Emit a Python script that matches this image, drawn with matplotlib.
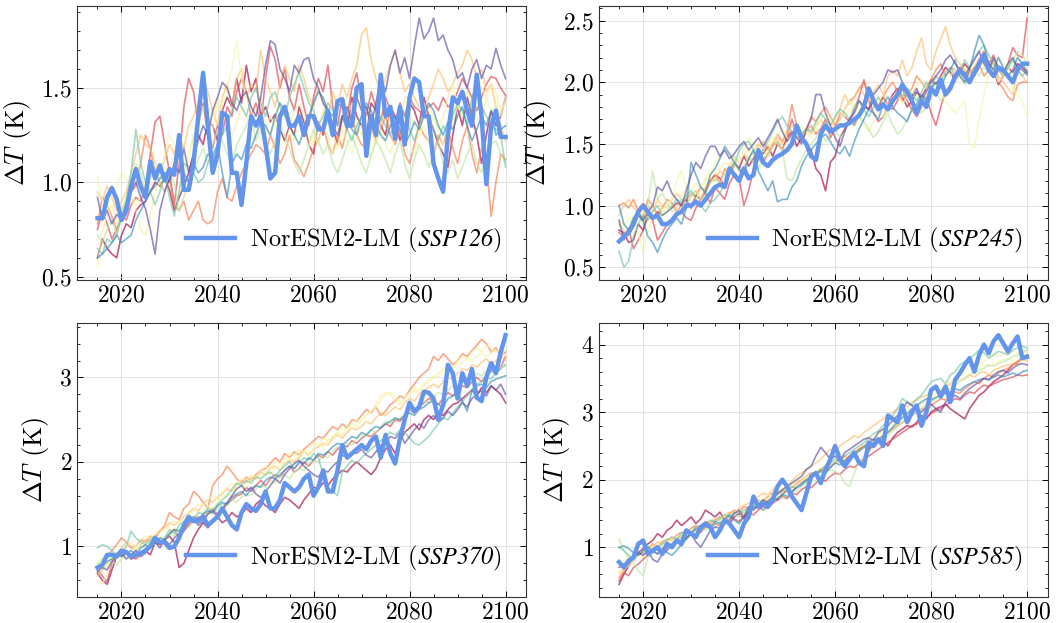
import matplotlib
matplotlib.use("Agg")
import matplotlib.pyplot as plt
from matplotlib.ticker import MultipleLocator, AutoMinorLocator
from matplotlib.font_manager import FontProperties

plt.rcParams.update({
    "font.family": "serif",
    "font.serif": ["cmr10"],
    "mathtext.fontset": "cm",
    # fontset "custom" uzywany tylko w legendzie (kursywa z cyframi)
    "mathtext.rm": "STIXGeneral:italic",
    "mathtext.it": "STIXGeneral:italic",
    "axes.formatter.use_mathtext": True,
    "axes.unicode_minus": False,
    "xtick.direction": "in",
    "ytick.direction": "in",
    "xtick.top": True,
    "ytick.right": True,
    "xtick.major.size": 4,
    "ytick.major.size": 4,
    "xtick.minor.size": 2,
    "ytick.minor.size": 2,
    "xtick.major.width": 0.7,
    "ytick.major.width": 0.7,
    "xtick.minor.width": 0.6,
    "ytick.minor.width": 0.6,
    "axes.linewidth": 0.8,
    "axes.edgecolor": "#333333",
})

years = list(range(2015, 2101))

# ---------------- NorESM2-LM (gruba niebieska linia) ----------------
noresm_126 = [0.81, 0.81, 0.92, 0.97, 0.91, 0.80, 0.85, 0.98, 1.07, 0.98,
              0.92, 1.11, 1.02, 1.09, 1.01, 1.07, 1.04, 1.25, 0.96, 0.96,
              1.10, 1.35, 1.58, 1.30, 1.05, 1.15, 1.37, 1.35, 1.05, 1.05,
              0.88, 1.10, 1.35, 1.30, 1.35, 1.20, 1.02, 1.05, 1.35, 1.40,
              1.30, 1.30, 1.35, 1.25, 1.35, 1.35, 1.28, 1.28, 1.38, 1.25,
              1.43, 1.44, 1.30, 1.30, 1.50, 1.52, 1.14, 1.35, 1.25, 1.57,
              1.35, 1.40, 1.23, 1.40, 1.20, 1.45, 1.55, 1.53, 1.35, 1.35,
              1.10, 1.02, 0.95, 1.25, 1.45, 1.42, 1.48, 1.38, 1.30, 1.57,
              1.35, 0.99, 1.30, 1.38, 1.24, 1.24]
noresm_245 = [0.71, 0.75, 0.78, 0.85, 0.95, 1.00, 0.95, 0.90, 0.92, 0.85,
              0.85, 0.88, 0.93, 0.95, 1.00, 1.00, 1.03, 1.00, 1.05, 1.10,
              1.15, 1.17, 1.15, 1.30, 1.25, 1.20, 1.30, 1.22, 1.25, 1.45,
              1.35, 1.32, 1.37, 1.40, 1.42, 1.45, 1.50, 1.65, 1.55, 1.50,
              1.40, 1.37, 1.58, 1.65, 1.60, 1.62, 1.65, 1.65, 1.67, 1.70,
              1.73, 1.80, 1.95, 1.85, 1.78, 1.82, 1.78, 1.85, 1.90, 1.98,
              1.92, 1.85, 1.75, 1.85, 1.80, 1.95, 1.90, 2.02, 1.90, 1.95,
              2.05, 2.10, 2.05, 2.00, 2.08, 2.15, 2.22, 2.10, 2.05, 2.12,
              2.10, 2.05, 2.00, 2.10, 2.15, 2.15]
noresm_370 = [0.75, 0.78, 0.90, 0.90, 0.88, 0.95, 0.93, 0.88, 0.90, 0.92,
              0.95, 1.00, 1.10, 1.05, 1.05, 0.98, 1.00, 1.10, 1.25, 1.35,
              1.30, 1.30, 1.35, 1.25, 1.30, 1.35, 1.45, 1.35, 1.25, 1.20,
              1.40, 1.50, 1.45, 1.42, 1.50, 1.65, 1.45, 1.45, 1.55, 1.75,
              1.70, 1.65, 1.70, 1.80, 1.85, 1.60, 1.70, 1.90, 1.65, 1.65,
              1.90, 2.20, 2.05, 2.10, 2.15, 2.20, 2.15, 2.25, 2.30, 2.05,
              2.32, 2.10, 1.98, 2.28, 2.50, 2.70, 2.60, 2.65, 2.83, 2.82,
              2.75, 2.50, 2.68, 3.15, 3.05, 2.75, 3.05, 2.90, 3.10, 2.76,
              2.72, 3.00, 3.17, 3.05, 3.30, 3.50]
noresm_585 = [0.78, 0.70, 0.80, 0.85, 1.05, 1.10, 0.90, 0.95, 1.00, 0.90,
              1.05, 1.00, 1.10, 1.05, 1.25, 1.20, 1.15, 1.30, 1.35, 1.30,
              1.15, 1.25, 1.40, 1.35, 1.25, 1.15, 1.35, 1.45, 1.75, 1.60,
              1.65, 1.60, 1.70, 1.90, 2.00, 1.90, 1.75, 1.65, 1.55, 1.80,
              2.05, 2.10, 1.95, 2.15, 2.30, 2.50, 2.30, 2.20, 2.30, 2.40,
              2.25, 2.20, 2.55, 2.50, 2.60, 2.50, 2.95, 2.90, 2.85, 3.10,
              2.85, 3.00, 3.10, 2.80, 3.00, 3.33, 3.38, 3.23, 3.38, 3.15,
              3.48, 3.58, 3.70, 3.80, 3.60, 3.85, 4.00, 3.87, 4.05, 4.14,
              4.02, 3.90, 4.02, 4.12, 3.80, 3.82]

# ---------------- pozostale modele (cienkie linie, kolejnosc wg Spectral) ----------------
ens_126 = [
    [0.60, 0.70, 0.65, 0.62, 0.60, 0.72, 0.78, 0.76, 0.85, 0.88,
     0.90, 0.95, 1.00, 0.98, 1.02, 0.96, 0.85, 0.92, 0.98, 1.05,
     1.15, 1.25, 1.20, 1.32, 1.30, 1.22, 1.38, 1.45, 1.40, 1.55,
     1.42, 1.62, 1.48, 1.55, 1.35, 1.40, 1.32, 1.36, 1.28, 1.22,
     1.30, 1.25, 1.40, 1.32, 1.20, 1.15, 1.32, 1.25, 1.38, 1.30,
     1.20, 1.35, 1.28, 1.45, 1.35, 1.30, 1.25, 1.42, 1.38, 1.30,
     1.25, 1.40, 1.35, 1.22, 1.30, 1.42, 1.38, 1.30, 1.45, 1.35,
     1.28, 1.20, 1.15, 1.08, 1.25, 1.40, 1.30, 1.45, 1.35, 1.25,
     1.10, 1.25, 1.38, 1.30, 1.35, 1.45],
    [0.75, 0.85, 0.78, 0.70, 0.75, 0.82, 0.80, 0.88, 0.92, 0.90,
     0.98, 1.15, 1.32, 1.35, 1.20, 1.05, 0.88, 1.10, 1.40, 1.55,
     1.48, 1.30, 1.42, 1.25, 1.18, 1.30, 1.25, 1.40, 1.35, 1.48,
     1.55, 1.48, 1.35, 1.42, 1.30, 1.55, 1.72, 1.65, 1.50, 1.60,
     1.45, 1.38, 1.52, 1.40, 1.30, 1.45, 1.55, 1.48, 1.62, 1.40,
     1.30, 1.45, 1.35, 1.50, 1.58, 1.42, 1.35, 1.48, 1.40, 1.32,
     1.45, 1.38, 1.30, 1.42, 1.35, 1.45, 1.40, 1.38, 1.35, 1.40,
     1.42, 1.38, 1.45, 1.40, 1.42, 1.48, 1.55, 1.50, 1.45, 1.38,
     1.45, 1.52, 1.56, 1.55, 1.50, 1.46],
    [0.78, 0.92, 0.88, 0.82, 0.75, 0.80, 0.90, 0.95, 0.98, 1.10,
     1.25, 1.18, 1.05, 1.00, 0.95, 1.02, 0.88, 0.85, 0.90, 0.80,
     0.85, 0.90, 0.80, 0.78, 0.80, 0.95, 1.02, 0.92, 0.90, 0.98,
     1.05, 1.10, 1.15, 1.20, 1.18, 1.15, 1.25, 1.18, 1.10, 1.15,
     1.25, 1.12, 1.08, 1.03, 1.10, 1.18, 1.22, 1.30, 1.20, 1.15,
     1.25, 1.18, 1.30, 1.35, 1.25, 1.20, 1.18, 1.30, 1.22, 1.28,
     1.35, 1.25, 1.20, 1.28, 1.15, 1.10, 1.20, 1.30, 1.25, 1.22,
     1.15, 1.25, 1.20, 1.28, 1.18, 1.10, 1.22, 1.30, 1.15, 1.05,
     1.18, 1.10, 0.82, 1.00, 1.15, 1.12],
    [0.95, 0.90, 0.98, 0.92, 0.85, 0.90, 0.95, 1.05, 1.15, 1.25,
     1.20, 1.18, 1.10, 1.05, 1.12, 1.20, 1.15, 1.25, 1.18, 1.30,
     1.35, 1.42, 1.55, 1.48, 1.38, 1.30, 1.45, 1.52, 1.40, 1.55,
     1.60, 1.45, 1.52, 1.48, 1.70, 1.55, 1.48, 1.40, 1.52, 1.62,
     1.55, 1.48, 1.62, 1.55, 1.45, 1.40, 1.50, 1.42, 1.35, 1.48,
     1.40, 1.52, 1.45, 1.55, 1.62, 1.78, 1.82, 1.65, 1.55, 1.48,
     1.55, 1.62, 1.70, 1.58, 1.48, 1.52, 1.45, 1.40, 1.38, 1.45,
     1.52, 1.60, 1.55, 1.48, 1.52, 1.58, 1.62, 1.70, 1.65, 1.55,
     1.60, 1.48, 1.52, 1.40, 1.30, 1.22],
    [0.55, 0.75, 0.82, 0.88, 0.80, 0.78, 0.85, 0.92, 0.85, 0.75,
     0.72, 0.82, 0.95, 1.00, 1.08, 1.05, 1.15, 1.10, 1.02, 1.12,
     1.25, 1.30, 1.40, 1.35, 1.28, 1.42, 1.38, 1.30, 1.25, 1.32,
     1.40, 1.35, 1.28, 1.38, 1.45, 1.30, 1.25, 1.32, 1.40, 1.35,
     1.30, 1.38, 1.42, 1.35, 1.25, 1.20, 1.30, 1.38, 1.32, 1.25,
     1.18, 1.28, 1.35, 1.42, 1.30, 1.25, 1.35, 1.28, 1.20, 1.32,
     1.38, 1.30, 1.25, 1.35, 1.45, 1.38, 1.30, 1.25, 1.35, 1.40,
     1.35, 1.28, 1.35, 1.45, 1.52, 1.40, 1.35, 1.48, 1.42, 1.35,
     1.30, 1.45, 1.52, 1.48, 1.38, 1.42],
    [1.03, 0.90, 0.85, 0.95, 0.98, 1.05, 1.02, 0.95, 0.88, 0.92,
     1.00, 1.05, 1.10, 1.02, 1.15, 1.25, 1.20, 1.12, 1.05, 1.15,
     1.25, 1.35, 1.30, 1.28, 1.35, 1.45, 1.40, 1.50, 1.60, 1.75,
     1.55, 1.45, 1.38, 1.30, 1.22, 1.28, 1.35, 1.30, 1.25, 1.20,
     1.28, 1.22, 1.35, 1.28, 1.18, 1.25, 1.20, 1.30, 1.25, 1.15,
     1.20, 1.28, 1.22, 1.15, 1.25, 1.30, 1.18, 1.12, 1.22, 1.28,
     1.20, 1.15, 1.25, 1.32, 1.28, 1.20, 1.15, 1.25, 1.30, 1.22,
     1.35, 1.28, 1.20, 1.25, 1.32, 1.40, 1.45, 1.38, 1.30, 1.42,
     1.50, 1.45, 1.38, 1.42, 1.35, 1.45],
    [0.72, 0.68, 0.75, 0.80, 0.72, 0.85, 0.92, 1.00, 1.10, 1.05,
     0.95, 1.02, 1.08, 1.00, 0.95, 1.05, 1.00, 0.85, 0.92, 1.00,
     1.05, 1.12, 1.18, 1.10, 1.20, 1.28, 1.22, 1.15, 1.10, 1.20,
     1.25, 1.30, 1.35, 1.22, 1.28, 1.20, 1.15, 1.22, 1.30, 1.25,
     1.18, 1.10, 1.05, 1.12, 1.20, 1.28, 1.22, 1.15, 1.20, 1.10,
     1.05, 1.12, 1.20, 1.25, 1.18, 1.10, 1.05, 1.15, 1.22, 1.18,
     1.12, 1.05, 1.15, 1.22, 1.10, 1.02, 1.12, 1.20, 1.15, 1.08,
     1.15, 1.22, 1.10, 1.05, 1.12, 1.02, 1.08, 1.15, 1.20, 1.10,
     1.05, 1.15, 1.20, 1.22, 1.15, 1.10],
    [0.65, 0.62, 0.70, 0.68, 0.72, 0.82, 0.90, 1.05, 1.28, 1.10,
     1.00, 0.95, 0.88, 0.95, 1.05, 0.92, 0.82, 0.95, 1.10, 1.08,
     1.05, 1.00, 1.02, 1.10, 1.15, 1.20, 1.25, 1.30, 1.38, 1.45,
     1.40, 1.35, 1.45, 1.50, 1.42, 1.35, 1.45, 1.48, 1.40, 1.35,
     1.45, 1.52, 1.58, 1.50, 1.42, 1.38, 1.30, 1.35, 1.42, 1.38,
     1.30, 1.35, 1.28, 1.22, 1.30, 1.35, 1.40, 1.32, 1.28, 1.35,
     1.30, 1.25, 1.32, 1.40, 1.35, 1.28, 1.22, 1.30, 1.38, 1.32,
     1.28, 1.22, 1.30, 1.25, 1.35, 1.42, 1.38, 1.30, 1.45, 1.52,
     1.40, 1.35, 1.30, 1.28, 1.25, 1.08],
    [0.60, 0.62, 0.65, 0.68, 0.72, 0.68, 0.70, 0.72, 0.80, 0.85,
     0.90, 0.95, 0.98, 1.02, 1.05, 1.00, 1.08, 1.15, 1.05, 1.00,
     1.10, 1.05, 1.08, 1.15, 1.12, 1.20, 1.05, 0.92, 1.10, 1.15,
     1.12, 1.20, 1.18, 1.25, 1.32, 1.30, 1.25, 1.35, 1.42, 1.38,
     1.30, 1.25, 1.20, 1.28, 1.35, 1.42, 1.48, 1.45, 1.38, 1.35,
     1.42, 1.40, 1.35, 1.28, 1.25, 1.35, 1.42, 1.38, 1.30, 1.25,
     1.22, 1.30, 1.35, 1.28, 1.20, 1.25, 1.32, 1.28, 1.35, 1.42,
     1.38, 1.30, 1.25, 1.32, 1.28, 1.35, 1.40, 1.30, 1.22, 1.28,
     1.35, 1.30, 1.38, 1.25, 1.28, 1.30],
    [0.92, 0.80, 0.85, 0.78, 0.83, 0.80, 0.88, 0.95, 1.00, 0.92,
     0.86, 0.75, 0.62, 0.85, 0.95, 1.02, 1.10, 1.05, 1.18, 1.05,
     1.15, 1.22, 1.30, 1.25, 1.38, 1.45, 1.53, 1.50, 1.42, 1.38,
     1.45, 1.48, 1.40, 1.35, 1.45, 1.62, 1.75, 1.73, 1.60, 1.55,
     1.48, 1.62, 1.58, 1.65, 1.66, 1.55, 1.50, 1.42, 1.38, 1.30,
     1.25, 1.35, 1.40, 1.32, 1.45, 1.38, 1.40, 1.30, 1.42, 1.55,
     1.48, 1.62, 1.70, 1.58, 1.66, 1.55, 1.72, 1.87, 1.76, 1.80,
     1.87, 1.75, 1.78, 1.70, 1.65, 1.55, 1.58, 1.50, 1.60, 1.65,
     1.55, 1.62, 1.60, 1.71, 1.62, 1.55],
]

ens_245 = [
    [0.80, 0.78, 0.70, 0.72, 0.85, 0.80, 0.92, 0.90, 0.95, 0.92,
     0.95, 0.98, 1.02, 1.00, 1.05, 0.98, 1.08, 1.05, 1.12, 1.20,
     1.25, 1.22, 1.15, 1.28, 1.35, 1.30, 1.40, 1.32, 1.38, 1.45,
     1.42, 1.48, 1.40, 1.50, 1.45, 1.55, 1.60, 1.48, 1.55, 1.50,
     1.45, 1.30, 1.25, 1.12, 1.35, 1.40, 1.55, 1.62, 1.70, 1.65,
     1.75, 1.82, 1.78, 1.85, 1.80, 1.88, 1.82, 1.90, 1.95, 1.88,
     1.80, 1.85, 1.92, 1.88, 1.95, 2.02, 1.98, 2.05, 2.12, 2.08,
     2.02, 2.08, 2.15, 2.10, 2.05, 2.12, 2.20, 2.15, 2.10, 1.98,
     2.05, 2.12, 2.08, 2.15, 2.12, 2.08],
    [0.78, 0.75, 0.82, 0.65, 0.72, 0.80, 0.92, 0.88, 0.72, 0.78,
     0.85, 0.88, 0.92, 0.95, 0.90, 0.88, 0.98, 1.05, 1.10, 1.02,
     1.15, 1.10, 1.05, 1.18, 1.25, 1.22, 1.00, 1.12, 1.30, 1.38,
     1.35, 1.42, 1.48, 1.52, 1.45, 1.55, 1.70, 1.58, 1.52, 1.60,
     1.65, 1.58, 1.62, 1.70, 1.55, 1.62, 1.75, 1.72, 1.68, 1.78,
     1.88, 2.02, 1.85, 1.75, 1.68, 1.72, 1.80, 1.78, 1.85, 1.95,
     1.85, 1.78, 1.72, 1.80, 1.88, 1.75, 1.65, 1.80, 1.92, 1.98,
     2.05, 2.12, 2.08, 2.00, 2.10, 2.18, 2.25, 2.15, 2.22, 2.10,
     2.05, 2.15, 2.28, 2.22, 2.20, 2.52],
    [1.00, 1.02, 0.98, 1.05, 0.95, 0.90, 1.05, 1.00, 0.92, 0.98,
     1.05, 1.02, 0.95, 1.00, 1.05, 1.10, 1.08, 1.15, 1.12, 1.20,
     1.25, 1.18, 1.30, 1.25, 1.35, 1.28, 1.30, 1.38, 1.35, 1.48,
     1.52, 1.45, 1.50, 1.58, 1.52, 1.60, 1.82, 1.65, 1.58, 1.62,
     1.72, 1.68, 1.75, 1.80, 1.72, 1.65, 1.70, 1.78, 1.85, 1.88,
     1.95, 2.00, 1.92, 1.85, 1.80, 1.88, 1.95, 2.00, 1.92, 1.85,
     1.90, 1.95, 2.05, 2.00, 1.95, 2.02, 2.10, 2.15, 2.05, 2.12,
     2.10, 2.05, 2.00, 2.08, 2.12, 2.15, 2.05, 2.10, 2.18, 2.00,
     1.95, 1.88, 1.85, 1.98, 2.00, 2.00],
    [0.92, 1.00, 1.05, 0.98, 0.95, 1.02, 1.00, 0.95, 1.05, 1.00,
     0.98, 1.05, 1.10, 1.05, 1.00, 1.08, 1.12, 1.05, 1.15, 1.22,
     1.20, 1.28, 1.25, 1.32, 1.40, 1.35, 1.42, 1.38, 1.45, 1.50,
     1.45, 1.40, 1.48, 1.55, 1.50, 1.58, 1.65, 1.60, 1.55, 1.62,
     1.58, 1.65, 1.70, 1.62, 1.58, 1.72, 1.78, 1.90, 1.82, 1.88,
     1.95, 1.90, 1.85, 1.92, 1.98, 1.90, 2.05, 2.10, 2.05, 2.18,
     2.05, 2.12, 2.25, 2.36, 2.15, 2.10, 2.25, 2.35, 2.45, 2.30,
     2.20, 2.15, 2.10, 2.05, 2.12, 2.20, 2.15, 2.08, 2.12, 2.05,
     2.00, 1.95, 1.90, 2.10, 2.05, 2.00],
    [0.88, 0.85, 0.80, 0.92, 0.88, 0.95, 0.90, 1.00, 1.05, 0.95,
     1.00, 1.05, 1.10, 1.08, 1.15, 1.12, 1.18, 1.15, 1.22, 1.28,
     1.25, 1.30, 1.35, 1.32, 1.38, 1.35, 1.42, 1.45, 1.40, 1.48,
     1.52, 1.48, 1.55, 1.50, 1.45, 1.52, 1.58, 1.55, 1.62, 1.58,
     1.65, 1.62, 1.58, 1.65, 1.70, 1.68, 1.75, 1.72, 1.78, 1.82,
     1.78, 1.85, 1.80, 1.88, 1.85, 1.90, 1.82, 1.88, 1.92, 1.88,
     1.95, 1.90, 1.98, 2.02, 1.95, 2.00, 2.05, 2.02, 2.08, 2.05,
     2.10, 2.05, 2.12, 2.08, 2.15, 2.12, 2.18, 2.22, 2.15, 2.20,
     2.15, 2.12, 2.18, 2.20, 2.15, 2.10],
    [0.85, 0.82, 0.90, 0.88, 0.78, 0.62, 0.80, 0.92, 0.88, 0.95,
     0.98, 1.05, 1.20, 1.28, 1.15, 1.10, 1.05, 1.12, 1.20, 1.25,
     1.35, 1.40, 1.45, 1.42, 1.38, 1.35, 1.45, 1.55, 1.50, 1.42,
     1.38, 1.45, 1.52, 1.58, 1.62, 1.55, 1.50, 1.58, 1.65, 1.60,
     1.55, 1.62, 1.70, 1.75, 1.68, 1.62, 1.70, 1.78, 1.85, 1.80,
     1.72, 1.65, 1.60, 1.68, 1.75, 1.72, 1.80, 1.85, 1.90, 1.82,
     1.88, 1.92, 1.85, 1.80, 1.90, 1.95, 1.98, 1.90, 1.85, 1.80,
     1.75, 1.80, 1.85, 1.50, 1.47, 1.70, 1.90, 2.05, 2.10, 2.00,
     2.05, 2.15, 1.95, 1.90, 1.85, 1.73],
    [0.85, 0.80, 0.75, 0.90, 0.95, 0.85, 1.00, 1.28, 1.05, 1.10,
     1.02, 0.95, 0.98, 1.05, 1.00, 1.08, 1.12, 1.05, 1.10, 1.18,
     1.22, 1.18, 1.25, 1.30, 1.35, 1.28, 1.32, 1.40, 1.35, 1.30,
     1.38, 1.42, 1.48, 1.52, 1.45, 1.22, 1.20, 1.30, 1.38, 1.45,
     1.50, 1.55, 1.60, 1.52, 1.58, 1.62, 1.55, 1.60, 1.68, 1.65,
     1.72, 1.68, 1.62, 1.55, 1.60, 1.68, 1.75, 1.65, 1.58, 1.62,
     1.70, 1.78, 1.82, 1.75, 1.80, 1.88, 1.92, 1.85, 1.90, 1.95,
     2.00, 2.05, 1.98, 2.02, 2.10, 2.05, 2.12, 2.08, 2.15, 2.10,
     2.05, 2.12, 2.18, 2.25, 2.22, 2.15],
    [0.63, 0.50, 0.55, 0.75, 0.85, 0.92, 0.88, 0.95, 1.00, 0.92,
     0.95, 1.00, 1.05, 1.02, 1.08, 1.12, 1.05, 1.00, 0.95, 1.02,
     1.05, 1.10, 1.18, 1.25, 1.32, 1.45, 1.50, 1.52, 1.45, 1.38,
     1.45, 1.52, 1.60, 1.68, 1.72, 1.65, 1.60, 1.55, 1.58, 1.62,
     1.60, 1.68, 1.75, 1.70, 1.65, 1.72, 1.78, 1.75, 1.70, 1.80,
     1.85, 1.78, 1.72, 1.80, 1.88, 1.82, 1.78, 1.85, 1.92, 1.88,
     1.95, 1.90, 1.85, 1.92, 2.00, 1.95, 2.05, 2.00, 2.08, 2.12,
     2.05, 2.10, 2.18, 2.12, 2.20, 2.25, 2.30, 2.22, 2.15, 2.10,
     2.08, 2.12, 2.18, 2.10, 2.05, 2.10],
    [1.00, 0.85, 0.80, 0.90, 0.95, 0.88, 0.75, 0.70, 0.62, 0.72,
     0.80, 0.85, 0.90, 0.85, 0.98, 1.35, 1.25, 1.15, 1.10, 1.25,
     1.30, 1.38, 1.48, 1.42, 1.35, 1.30, 1.25, 1.38, 1.45, 1.28,
     1.20, 1.12, 1.20, 1.03, 1.05, 1.05, 1.15, 1.20, 1.32, 1.40,
     1.45, 1.50, 1.55, 1.58, 1.52, 1.45, 1.42, 1.48, 1.40, 1.52,
     1.62, 1.70, 1.78, 1.75, 1.70, 1.82, 1.88, 1.80, 1.75, 1.72,
     1.68, 1.78, 1.82, 1.90, 1.85, 1.95, 2.00, 1.95, 2.05, 2.10,
     2.18, 2.05, 2.00, 2.10, 2.25, 2.38, 2.30, 2.15, 2.10, 2.20,
     2.12, 2.05, 2.10, 2.20, 2.15, 2.08],
    [0.88, 0.72, 0.80, 0.85, 0.92, 0.88, 0.95, 1.00, 1.15, 1.12,
     1.20, 1.10, 1.05, 1.00, 1.12, 1.25, 1.35, 1.30, 1.40, 1.48,
     1.48, 1.40, 1.45, 1.38, 1.42, 1.48, 1.52, 1.45, 1.50, 1.55,
     1.48, 1.55, 1.62, 1.70, 1.60, 1.52, 1.58, 1.55, 1.50, 1.62,
     1.70, 1.90, 1.90, 1.75, 1.65, 1.55, 1.48, 1.60, 1.70, 1.75,
     1.85, 1.80, 1.78, 1.90, 1.95, 2.00, 2.10, 2.08, 2.10, 2.00,
     1.92, 1.88, 1.95, 1.85, 1.92, 2.00, 2.05, 2.10, 2.18, 2.22,
     2.15, 2.10, 2.05, 2.12, 2.18, 2.25, 2.15, 2.10, 2.20, 2.12,
     2.08, 2.15, 2.20, 2.12, 2.10, 2.06],
]

ens_370 = [
    [0.68, 0.60, 0.55, 0.72, 0.88, 0.95, 0.92, 0.85, 0.88, 0.92,
     0.95, 0.90, 1.05, 1.02, 1.08, 1.12, 1.05, 0.75, 0.80, 0.95,
     1.10, 1.20, 1.28, 1.22, 1.30, 1.35, 1.28, 1.32, 1.40, 1.35,
     1.38, 1.45, 1.40, 1.50, 1.55, 1.48, 1.45, 1.40, 1.50, 1.58,
     1.55, 1.50, 1.45, 1.55, 1.62, 1.70, 1.68, 1.75, 1.72, 1.80,
     1.85, 1.90, 1.88, 1.95, 2.00, 1.95, 1.90, 1.85, 1.92, 2.05,
     2.15, 2.20, 2.10, 2.25, 2.35, 2.40, 2.45, 2.38, 2.50, 2.55,
     2.50, 2.58, 2.55, 2.62, 2.68, 2.70, 2.75, 2.80, 2.85, 2.78,
     2.88, 2.82, 2.90, 2.85, 2.80, 2.70],
    [0.72, 0.65, 0.58, 0.80, 0.92, 0.88, 0.95, 0.90, 0.85, 0.90,
     0.95, 1.00, 1.12, 1.05, 1.08, 1.15, 1.20, 1.10, 1.18, 1.25,
     1.30, 1.35, 1.32, 1.40, 1.45, 1.38, 1.42, 1.50, 1.55, 1.60,
     1.62, 1.70, 1.65, 1.72, 1.78, 1.72, 1.80, 1.85, 1.82, 1.90,
     1.95, 1.88, 1.92, 2.00, 1.95, 2.02, 2.08, 2.05, 2.12, 2.08,
     2.15, 2.20, 2.18, 2.25, 2.22, 2.28, 2.32, 2.30, 2.35, 2.40,
     2.45, 2.42, 2.50, 2.48, 2.55, 2.62, 2.58, 2.65, 2.70, 2.75,
     2.72, 2.68, 2.75, 2.82, 2.78, 2.85, 2.90, 2.88, 2.95, 3.00,
     2.95, 3.02, 3.08, 3.05, 3.12, 3.25],
    [0.75, 0.80, 0.88, 0.95, 1.02, 1.10, 1.05, 0.98, 1.00, 1.08,
     1.05, 1.12, 1.10, 1.18, 1.25, 1.40, 1.35, 1.32, 1.45, 1.50,
     1.65, 1.60, 1.52, 1.45, 1.72, 1.80, 1.85, 1.95, 1.88, 1.80,
     1.75, 1.82, 1.78, 1.85, 1.90, 1.92, 1.98, 2.05, 2.00, 2.10,
     2.05, 2.12, 2.08, 2.15, 2.20, 2.25, 2.30, 2.28, 2.35, 2.42,
     2.38, 2.45, 2.40, 2.50, 2.48, 2.55, 2.62, 2.58, 2.65, 2.55,
     2.60, 2.68, 2.72, 2.78, 2.75, 2.85, 2.92, 3.00, 3.05, 3.10,
     3.25, 3.20, 3.28, 3.22, 3.15, 3.20, 3.28, 3.25, 3.32, 3.38,
     3.45, 3.40, 3.30, 3.35, 3.25, 3.30],
    [0.65, 0.72, 0.80, 0.85, 0.92, 0.98, 1.05, 1.00, 0.95, 1.02,
     1.08, 1.05, 1.12, 1.18, 1.22, 1.28, 1.25, 1.30, 1.35, 1.40,
     1.45, 1.42, 1.50, 1.55, 1.52, 1.58, 1.62, 1.68, 1.65, 1.72,
     1.78, 1.75, 1.82, 1.80, 1.88, 1.85, 1.92, 1.95, 1.90, 1.98,
     2.02, 2.00, 2.05, 2.12, 2.08, 2.15, 2.18, 2.22, 2.20, 2.28,
     2.32, 2.28, 2.35, 2.40, 2.38, 2.42, 2.48, 2.45, 2.52, 2.58,
     2.55, 2.60, 2.65, 2.62, 2.70, 2.75, 2.72, 2.80, 2.85, 2.88,
     2.92, 2.88, 2.95, 3.00, 2.98, 3.05, 3.10, 3.08, 3.15, 3.12,
     3.18, 3.22, 3.15, 3.20, 3.25, 3.20],
    [0.60, 0.55, 0.68, 0.82, 0.90, 0.95, 1.00, 1.05, 1.00, 1.08,
     1.12, 1.10, 1.15, 1.20, 1.18, 1.25, 1.30, 1.28, 1.35, 1.38,
     1.42, 1.50, 1.48, 1.55, 1.60, 1.58, 1.65, 1.70, 1.75, 1.72,
     1.80, 1.78, 1.85, 1.82, 1.90, 1.95, 1.92, 2.00, 1.98, 2.05,
     2.10, 2.08, 2.15, 2.12, 2.18, 2.22, 2.20, 2.28, 2.25, 2.30,
     2.35, 2.32, 2.40, 2.45, 2.42, 2.50, 2.55, 2.60, 2.68, 2.78,
     2.82, 2.80, 2.72, 2.68, 2.75, 2.80, 2.85, 2.82, 2.90, 2.95,
     3.00, 3.05, 3.10, 3.15, 3.12, 3.20, 3.25, 3.22, 3.30, 3.35,
     3.30, 3.38, 3.35, 3.30, 3.28, 3.32],
    [0.78, 0.82, 0.75, 0.88, 0.85, 0.92, 0.88, 0.95, 1.00, 0.98,
     1.02, 1.08, 1.05, 1.12, 1.10, 1.18, 1.22, 1.20, 1.28, 1.32,
     1.35, 1.38, 1.42, 1.48, 1.45, 1.52, 1.58, 1.62, 1.60, 1.68,
     1.72, 1.70, 1.78, 1.82, 1.80, 1.88, 1.85, 1.92, 1.95, 2.00,
     2.05, 2.02, 2.08, 2.12, 2.10, 2.15, 2.20, 2.18, 2.25, 2.30,
     2.35, 2.40, 2.38, 2.45, 2.50, 2.48, 2.55, 2.60, 2.65, 2.72,
     2.80, 2.82, 2.78, 2.70, 2.75, 2.82, 2.88, 2.85, 2.92, 2.98,
     3.02, 3.00, 3.08, 3.12, 3.10, 3.15, 3.18, 3.22, 3.20, 3.25,
     3.28, 3.25, 3.30, 3.32, 3.28, 3.25],
    [0.80, 0.85, 0.90, 0.82, 0.78, 0.85, 0.92, 0.88, 0.95, 1.00,
     0.98, 1.05, 1.02, 1.10, 1.08, 1.15, 1.12, 1.20, 1.25, 1.22,
     1.30, 1.28, 1.35, 1.40, 1.38, 1.45, 1.50, 1.48, 1.55, 1.52,
     1.58, 1.62, 1.60, 1.68, 1.72, 1.70, 1.78, 1.75, 1.82, 1.85,
     1.80, 1.88, 1.92, 1.90, 1.98, 2.02, 2.00, 2.08, 2.05, 2.12,
     2.18, 2.15, 2.22, 2.20, 2.28, 2.32, 2.30, 2.38, 2.35, 2.42,
     2.48, 2.45, 2.52, 2.50, 2.58, 2.62, 2.60, 2.68, 2.72, 2.70,
     2.78, 2.82, 2.80, 2.85, 2.90, 2.88, 2.95, 3.00, 2.98, 3.05,
     3.02, 3.08, 3.05, 3.10, 3.12, 3.15],
    [0.98, 1.02, 1.00, 0.95, 0.90, 0.92, 1.00, 1.18, 1.10, 1.05,
     1.02, 1.08, 1.12, 1.05, 1.10, 1.20, 1.15, 1.25, 1.30, 1.35,
     1.32, 1.40, 1.38, 1.45, 1.42, 1.50, 1.55, 1.60, 1.68, 1.75,
     1.72, 1.78, 1.75, 1.82, 1.80, 1.85, 1.88, 1.82, 1.90, 1.95,
     2.00, 1.92, 1.98, 2.05, 2.02, 2.10, 2.05, 1.85, 1.70, 1.65,
     1.60, 1.88, 1.95, 2.02, 1.98, 2.05, 2.10, 2.15, 2.20, 2.25,
     2.30, 2.35, 2.32, 2.38, 2.35, 2.28, 2.22, 2.20, 2.25, 2.30,
     2.38, 2.45, 2.52, 2.50, 2.58, 2.65, 2.72, 2.78, 2.85, 2.92,
     2.95, 3.00, 2.98, 3.05, 3.10, 3.15],
    [0.75, 0.78, 0.82, 0.85, 0.90, 0.88, 0.92, 0.95, 0.90, 0.98,
     1.02, 0.98, 1.05, 1.10, 1.08, 1.15, 1.20, 1.18, 1.25, 1.30,
     1.35, 1.32, 1.38, 1.42, 1.40, 1.48, 1.52, 1.50, 1.58, 1.62,
     1.65, 1.60, 1.68, 1.72, 1.70, 1.78, 1.82, 1.80, 1.85, 1.90,
     1.95, 1.92, 2.00, 1.98, 2.05, 2.02, 2.10, 2.08, 2.12, 2.18,
     2.22, 2.20, 2.25, 2.30, 2.28, 2.35, 2.32, 2.38, 2.42, 2.40,
     2.45, 2.48, 2.52, 2.50, 2.55, 2.58, 2.55, 2.62, 2.65, 2.70,
     2.72, 2.68, 2.65, 2.75, 2.78, 2.82, 2.72, 2.60, 2.85, 2.90,
     2.92, 2.88, 2.95, 2.98, 3.00, 3.02],
    [0.70, 0.75, 0.72, 0.82, 0.88, 0.92, 0.85, 0.90, 0.95, 0.88,
     0.92, 1.00, 1.05, 0.98, 1.08, 1.02, 1.10, 1.15, 1.20, 1.28,
     1.32, 1.25, 1.30, 1.38, 1.42, 1.35, 1.45, 1.52, 1.60, 1.68,
     1.72, 1.65, 1.70, 1.62, 1.58, 1.65, 1.72, 1.80, 1.75, 1.85,
     1.92, 1.98, 2.02, 1.95, 1.90, 1.85, 1.82, 1.90, 1.88, 1.95,
     2.00, 2.08, 2.05, 2.12, 2.10, 2.15, 2.08, 2.05, 2.12, 2.20,
     2.22, 2.30, 2.28, 2.35, 2.22, 2.30, 2.38, 2.45, 2.40, 2.50,
     2.55, 2.48, 2.52, 2.60, 2.55, 2.62, 2.70, 2.65, 2.75, 2.80,
     2.85, 2.78, 2.90, 2.85, 2.92, 2.80],
]

ens_585 = [
    [0.45, 0.60, 0.72, 0.85, 0.92, 0.98, 1.05, 1.10, 1.20, 1.15,
     1.25, 1.30, 1.40, 1.32, 1.38, 1.45, 1.35, 1.42, 1.55, 1.50,
     1.45, 1.52, 1.40, 1.35, 1.45, 1.50, 1.42, 1.55, 1.60, 1.58,
     1.62, 1.68, 1.75, 1.70, 1.78, 1.85, 1.82, 1.90, 1.95, 2.00,
     2.05, 2.08, 2.15, 2.12, 2.20, 2.25, 2.30, 2.28, 2.35, 2.40,
     2.45, 2.50, 2.42, 2.55, 2.60, 2.58, 2.50, 2.62, 2.70, 2.75,
     2.80, 2.78, 2.85, 2.95, 2.90, 3.00, 3.05, 3.08, 3.12, 3.05,
     3.00, 2.95, 2.90, 3.05, 3.15, 3.25, 3.30, 3.38, 3.45, 3.50,
     3.55, 3.62, 3.70, 3.75, 3.80, 3.85],
    [0.50, 0.62, 0.58, 0.70, 0.75, 0.82, 0.88, 0.95, 0.90, 0.98,
     1.05, 1.02, 1.10, 1.15, 1.12, 1.20, 1.25, 1.22, 1.30, 1.28,
     1.35, 1.32, 1.40, 1.45, 1.42, 1.38, 1.45, 1.50, 1.48, 1.55,
     1.60, 1.58, 1.65, 1.70, 1.75, 1.72, 1.80, 1.78, 1.85, 1.90,
     1.88, 1.95, 2.00, 1.98, 2.05, 2.10, 2.08, 2.15, 2.20, 2.18,
     2.25, 2.30, 2.35, 2.40, 2.45, 2.50, 2.55, 2.60, 2.65, 2.70,
     2.75, 2.80, 2.82, 2.88, 2.92, 2.98, 3.02, 3.05, 3.10, 3.15,
     3.20, 3.18, 3.25, 3.30, 3.28, 3.35, 3.40, 3.38, 3.42, 3.45,
     3.48, 3.50, 3.52, 3.55, 3.54, 3.55],
    [0.55, 0.65, 0.75, 0.80, 0.88, 0.92, 0.98, 1.05, 1.00, 1.08,
     1.12, 1.10, 1.18, 1.22, 1.20, 1.28, 1.32, 1.30, 1.38, 1.35,
     1.40, 1.45, 1.42, 1.50, 1.55, 1.52, 1.60, 1.58, 1.65, 1.70,
     1.68, 1.75, 1.80, 1.78, 1.85, 1.90, 1.88, 1.95, 2.00, 2.05,
     2.10, 2.08, 2.15, 2.20, 2.18, 2.25, 2.30, 2.35, 2.32, 2.40,
     2.45, 2.50, 2.55, 2.52, 2.60, 2.65, 2.70, 2.75, 2.80, 2.85,
     2.90, 2.95, 3.00, 3.05, 3.02, 3.10, 3.15, 3.20, 3.18, 3.25,
     3.30, 3.28, 3.35, 3.40, 3.45, 3.42, 3.50, 3.55, 3.52, 3.58,
     3.62, 3.65, 3.70, 3.72, 3.80, 3.85],
    [0.62, 0.70, 0.78, 0.85, 0.90, 0.95, 1.02, 1.00, 1.08, 1.05,
     1.10, 1.15, 1.12, 1.20, 1.25, 1.22, 1.30, 1.28, 1.35, 1.38,
     1.42, 1.40, 1.48, 1.52, 1.50, 1.58, 1.62, 1.65, 1.70, 1.75,
     1.80, 1.78, 1.85, 1.92, 1.95, 1.90, 1.98, 2.05, 2.10, 2.15,
     2.20, 2.25, 2.30, 2.38, 2.45, 2.40, 2.50, 2.55, 2.60, 2.65,
     2.62, 2.70, 2.75, 2.80, 2.85, 2.90, 2.95, 3.00, 3.05, 3.10,
     3.08, 3.15, 3.18, 3.22, 3.25, 3.30, 3.35, 3.32, 3.38, 3.42,
     3.45, 3.48, 3.50, 3.55, 3.52, 3.58, 3.60, 3.55, 3.62, 3.65,
     3.68, 3.70, 3.72, 3.75, 3.78, 3.75],
    [0.60, 0.68, 0.72, 0.80, 0.88, 0.85, 0.92, 0.98, 1.05, 1.02,
     1.08, 1.12, 1.10, 1.18, 1.22, 1.20, 1.28, 1.25, 1.32, 1.30,
     1.38, 1.42, 1.40, 1.48, 1.52, 1.55, 1.50, 1.58, 1.62, 1.60,
     1.68, 1.72, 1.75, 1.82, 1.80, 1.88, 1.92, 1.90, 1.98, 2.02,
     2.08, 2.12, 2.10, 2.18, 2.22, 2.28, 2.25, 2.32, 2.38, 2.42,
     2.48, 2.52, 2.58, 2.62, 2.68, 2.72, 2.78, 2.82, 2.88, 2.92,
     2.98, 3.02, 3.08, 3.12, 3.18, 3.22, 3.28, 3.35, 3.40, 3.45,
     3.50, 3.55, 3.62, 3.68, 3.72, 3.70, 3.75, 3.80, 3.85, 3.82,
     3.85, 3.88, 3.90, 3.88, 3.92, 3.90],
    [0.75, 0.80, 0.85, 0.82, 0.88, 0.95, 0.92, 1.00, 0.98, 1.05,
     1.10, 1.08, 1.15, 1.20, 1.18, 1.25, 1.22, 1.30, 1.35, 1.32,
     1.38, 1.42, 1.48, 1.45, 1.52, 1.55, 1.50, 1.58, 1.62, 1.68,
     1.72, 1.78, 1.75, 1.82, 1.88, 1.85, 1.92, 1.98, 2.02, 2.05,
     2.08, 2.12, 2.18, 2.15, 2.20, 2.25, 2.22, 2.28, 2.32, 2.38,
     2.42, 2.48, 2.52, 2.58, 2.62, 2.68, 2.72, 2.78, 2.82, 2.88,
     2.92, 2.98, 3.02, 3.08, 3.12, 3.18, 3.22, 3.28, 3.32, 3.38,
     3.42, 3.48, 3.52, 3.58, 3.62, 3.65, 3.70, 3.68, 3.72, 3.75,
     3.78, 3.80, 3.75, 3.82, 3.85, 3.88],
    [1.12, 0.95, 0.85, 0.78, 0.65, 0.58, 0.85, 0.92, 1.00, 0.95,
     1.02, 0.98, 1.08, 1.15, 1.12, 1.22, 1.18, 1.28, 1.25, 1.32,
     1.30, 1.38, 1.35, 1.42, 1.48, 1.45, 1.52, 1.55, 1.60, 1.58,
     1.65, 1.62, 1.70, 1.75, 1.72, 1.80, 1.85, 1.82, 1.90, 1.95,
     2.00, 1.98, 2.05, 2.10, 2.15, 2.12, 2.08, 1.95, 1.90, 2.10,
     2.25, 2.35, 2.42, 2.48, 2.55, 2.60, 2.65, 2.72, 2.78, 2.85,
     2.90, 2.95, 3.00, 3.05, 3.10, 3.15, 3.20, 3.25, 3.30, 3.35,
     3.40, 3.45, 3.50, 3.55, 3.58, 3.62, 3.65, 3.70, 3.68, 3.72,
     3.75, 3.78, 3.82, 3.85, 3.88, 3.92],
    [1.00, 0.95, 0.88, 0.82, 0.90, 0.95, 1.00, 0.92, 0.98, 1.05,
     1.10, 1.15, 1.12, 1.20, 1.25, 1.22, 1.30, 1.28, 1.35, 1.40,
     1.38, 1.42, 1.48, 1.45, 1.52, 1.50, 1.55, 1.58, 1.62, 1.65,
     1.70, 1.68, 1.75, 1.78, 1.82, 1.85, 1.90, 1.88, 1.95, 2.00,
     2.05, 2.10, 2.15, 2.20, 2.25, 2.30, 2.28, 2.35, 2.40, 2.45,
     2.50, 2.55, 2.62, 2.68, 2.72, 2.80, 2.88, 2.95, 3.05, 3.20,
     3.15, 3.10, 3.20, 3.25, 3.35, 3.45, 3.48, 3.50, 3.42, 3.55,
     3.60, 3.70, 3.75, 3.80, 3.85, 3.92, 3.88, 3.80, 3.85, 3.90,
     3.88, 3.85, 3.92, 3.95, 3.98, 3.95],
    [1.00, 1.02, 0.98, 0.92, 0.88, 0.95, 1.00, 0.95, 0.90, 0.95,
     0.92, 0.88, 0.95, 1.05, 1.12, 1.20, 1.28, 1.25, 1.32, 1.30,
     1.38, 1.35, 1.42, 1.48, 1.40, 1.35, 1.45, 1.52, 1.58, 1.62,
     1.55, 1.60, 1.68, 1.72, 1.78, 1.75, 1.82, 1.88, 1.92, 1.98,
     2.02, 2.08, 2.12, 2.10, 2.18, 2.25, 2.22, 2.28, 2.32, 2.38,
     2.42, 2.48, 2.55, 2.60, 2.58, 2.65, 2.70, 2.78, 2.85, 2.92,
     2.98, 3.05, 3.10, 3.15, 3.20, 3.18, 3.22, 3.25, 3.28, 3.30,
     3.35, 3.32, 3.38, 3.42, 3.45, 3.48, 3.50, 3.48, 3.52, 3.55,
     3.52, 3.55, 3.58, 3.55, 3.60, 3.62],
    [0.70, 0.75, 0.80, 0.85, 0.92, 0.88, 0.95, 0.82, 0.78, 0.90,
     0.95, 1.05, 1.10, 1.02, 1.15, 1.20, 1.08, 1.00, 1.12, 1.25,
     1.30, 1.28, 1.35, 1.40, 1.50, 1.55, 1.45, 1.60, 1.55, 1.62,
     1.70, 1.65, 1.72, 1.80, 1.85, 1.90, 1.95, 2.00, 2.05, 2.15,
     2.20, 2.35, 2.48, 2.40, 2.30, 2.35, 2.28, 2.40, 2.45, 2.50,
     2.55, 2.60, 2.62, 2.58, 2.70, 2.75, 2.80, 2.88, 2.95, 3.05,
     3.15, 3.10, 3.05, 3.00, 3.08, 3.12, 3.05, 3.00, 3.15, 3.20,
     3.25, 3.20, 3.28, 3.35, 3.40, 3.45, 3.50, 3.48, 3.55, 3.60,
     3.62, 3.58, 3.65, 3.70, 3.72, 3.70],
]

panels = [
    (noresm_126, ens_126, "SSP126", 0.5),
    (noresm_245, ens_245, "SSP245", 0.5),
    (noresm_370, ens_370, "SSP370", 1.0),
    (noresm_585, ens_585, "SSP585", 1.0),
]

kolory = plt.cm.Spectral([i / 9 for i in range(10)])

fig, axs = plt.subplots(2, 2, figsize=(10.56, 6.23), dpi=100)
plt.subplots_adjust(left=0.073, right=0.992, top=0.991, bottom=0.042,
                    wspace=0.162, hspace=0.157)

legend_font = FontProperties(family="serif", size=17.5, math_fontfamily="custom")

for ax, (noresm, ens, ssp, krok) in zip(axs.flat, panels):
    for seria, kolor in zip(ens, kolory):
        ax.plot(years, seria, color=kolor, lw=1.2, alpha=0.65)
    ax.plot(years, noresm, color="cornflowerblue", lw=3.2,
            label="NorESM2-LM ($" + ssp + "$)")

    ax.xaxis.set_major_locator(MultipleLocator(20))
    ax.xaxis.set_minor_locator(AutoMinorLocator(4))
    ax.yaxis.set_major_locator(MultipleLocator(krok))
    ax.yaxis.set_minor_locator(AutoMinorLocator(5))
    ax.tick_params(labelsize=17)
    ax.grid(True, color="#dddddd", lw=0.8, alpha=0.8)
    ax.set_ylabel(r"$\Delta T$ (K)", fontsize=19, labelpad=6)
    ax.legend(loc="lower right", frameon=False, prop=legend_font,
              handlelength=2.0, handletextpad=0.6, borderaxespad=0.6)

fig.savefig("out.png", dpi=100)
